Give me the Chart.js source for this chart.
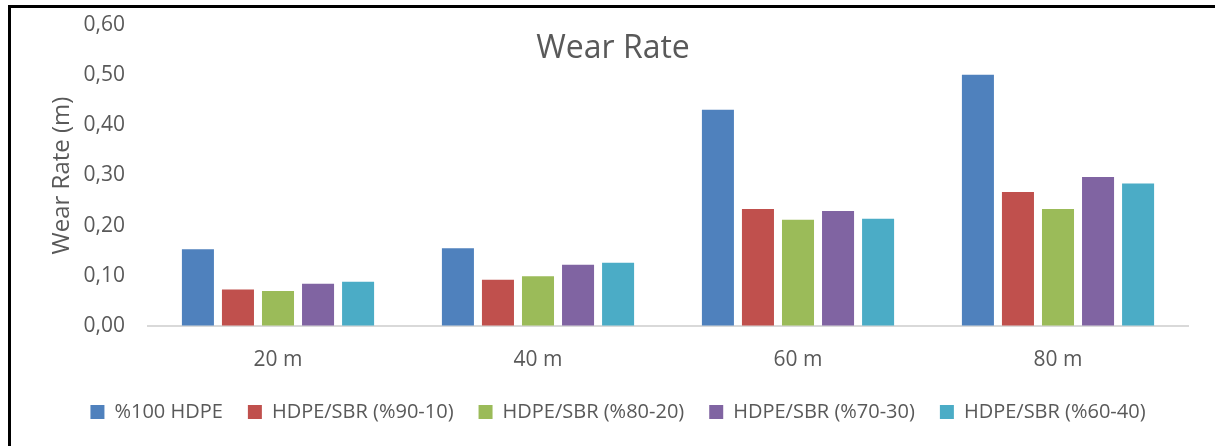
<!DOCTYPE html>
<html>
<head>
<meta charset="utf-8">
<script src="https://cdn.jsdelivr.net/npm/chart.js@4"></script>
<style>
  body { margin: 0; background: #fff; }
  #box { width: 1215px; height: 446px; }
</style>
</head>
<body>
<div id="box"><canvas id="wearChart"></canvas></div>
<script>
// Wear rate data
var distances = ["20 m", "40 m", "60 m", "80 m"];
var hdpe100 = [0.153, 0.155, 0.431, 0.501];
var sbr9010 = [0.073, 0.092, 0.233, 0.267];
var sbr8020 = [0.070, 0.099, 0.212, 0.233];
var sbr7030 = [0.084, 0.122, 0.229, 0.297];
var sbr6040 = [0.088, 0.126, 0.214, 0.284];
var yTicks = [0, 0.1, 0.2, 0.3, 0.4, 0.5, 0.6];

var textColor = '#595959';
var font = "'Open Sans', sans-serif";

// frame (left + top black lines) and title drawn over the plot
var framePlugin = {
    id: 'frame',
    afterDraw: function (chart) {
        var c = chart.ctx;
        c.save();
        c.strokeStyle = '#000';
        c.lineWidth = 3;
        c.beginPath();
        c.moveTo(9.5, 446);
        c.lineTo(9.5, 6.5);
        c.lineTo(1215, 6.5);
        c.stroke();
        c.fillStyle = textColor;
        c.font = "32px " + font;
        c.textAlign = 'center';
        c.textBaseline = 'middle';
        c.fillText('Wear Rate', 613, 49);
        c.restore();
    }
};

function ds(label, data, color) {
    return { label: label, data: data, backgroundColor: color, borderWidth: 0 };
}

var ctx = document.getElementById('wearChart').getContext('2d');
var wearChart = new Chart(ctx, {
    type: 'bar',
    data: {
        labels: distances,
        datasets: [
            ds('%100 HDPE', hdpe100, '#4F81BD'),
            ds('HDPE/SBR (%90-10)', sbr9010, '#C0504D'),
            ds('HDPE/SBR (%80-20)', sbr8020, '#9BBB59'),
            ds('HDPE/SBR (%70-30)', sbr7030, '#8064A2'),
            ds('HDPE/SBR (%60-40)', sbr6040, '#4BACC6')
        ]
    },
    options: {
        responsive: true,
        maintainAspectRatio: false,
        animation: false,
        categoryPercentage: 0.77,
        barPercentage: 0.8,
        layout: { padding: { left: 48, right: 27, top: 25, bottom: 14 } },
        plugins: {
            title: { display: false },
            tooltip: { enabled: false },
            legend: {
                position: 'bottom',
                labels: {
                    color: textColor,
                    font: { family: font, size: 20 },
                    boxWidth: 14,
                    boxHeight: 14,
                    padding: 25
                }
            }
        },
        scales: {
            x: {
                grid: { display: false },
                border: { color: '#D9D9D9', width: 2 },
                ticks: { color: textColor, font: { family: font, size: 21 }, padding: 13 },
                afterFit: function (s) { s.height = 51; }
            },
            y: {
                min: 0,
                max: 0.6,
                // invisible tick marks give the gap between labels and plot
                grid: { drawOnChartArea: false, drawTicks: true, tickLength: 23, tickColor: 'rgba(0,0,0,0)' },
                border: { display: false },
                afterBuildTicks: function (s) {
                    s.ticks = yTicks.map(function (v) { return { value: v }; });
                },
                ticks: {
                    color: textColor,
                    font: { family: font, size: 21 },
                    padding: 0,
                    callback: function (v) { return v.toFixed(2).replace('.', ','); }
                },
                title: {
                    display: true,
                    text: 'Wear Rate (m)',
                    color: textColor,
                    font: { family: font, size: 24 },
                    padding: 0
                },
                afterFit: function (s) { s.width = 100; }
            }
        }
    },
    plugins: [framePlugin]
});
</script>
</body>
</html>
